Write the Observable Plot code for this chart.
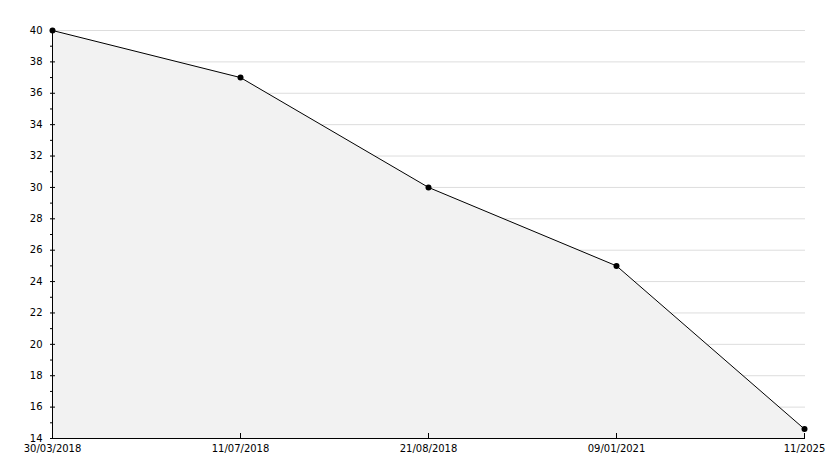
<!DOCTYPE html>
<html>
<head>
<meta charset="utf-8">
<script src="https://cdn.jsdelivr.net/npm/d3@7"></script>
<script src="https://cdn.jsdelivr.net/npm/@observablehq/plot@0.6"></script>
<style>
  html, body { margin: 0; padding: 0; background: #fff; }
  svg { display: block; }
</style>
</head>
<body>
<div id="chart"></div>
<script>
const dates = ["30/03/2018", "11/07/2018", "21/08/2018", "09/01/2021", "11/2025"];
const values = [40, 37, 30, 25, 14.6];
const yMajorTicks = [14, 16, 18, 20, 22, 24, 26, 28, 30, 32, 34, 36, 38, 40];
const yMinorTicks = [15, 17, 19, 21, 23, 25, 27, 29, 31, 33, 35, 37, 39];

const data = dates.map((d, i) => ({date: d, value: values[i]}));

const chart = Plot.plot({
  width: 834,
  height: 468,
  marginLeft: 50,
  marginRight: 29,
  marginTop: 30,
  marginBottom: 30,
  style: {fontFamily: "DejaVu Sans", fontSize: "10px", color: "#000", background: "#fff"},
  x: {type: "point", domain: dates, padding: 0},
  y: {domain: [14, 40]},
  marks: [
    Plot.gridY(yMajorTicks, {stroke: "#dddddd", strokeOpacity: 1}),
    Plot.areaY(data, {x: "date", y1: 14, y2: "value", fill: "#f2f2f2"}),
    Plot.line(data, {x: "date", y: "value", stroke: "#000", strokeWidth: 1}),
    Plot.ruleY([14], {stroke: "#000"}),
    Plot.ruleX([dates[0]], {stroke: "#000"}),
    Plot.axisY(yMajorTicks, {tickSize: 0, tickPadding: 8, label: null, fill: "#000"}),
    Plot.axisY(yMajorTicks, {tickSize: -5, text: null, label: null, stroke: "#000"}),
    Plot.axisY(yMinorTicks, {tickSize: -3, text: null, label: null, stroke: "#000"}),
    Plot.axisX(dates, {tickSize: 0, tickPadding: 6, label: null, fill: "#000"}),
    Plot.axisX(dates, {tickSize: -5, text: null, label: null, stroke: "#000"}),
    Plot.dot(data, {x: "date", y: "value", r: 3, fill: "#000", stroke: "none"})
  ]
});
document.getElementById("chart").appendChild(chart);
</script>
</body>
</html>
